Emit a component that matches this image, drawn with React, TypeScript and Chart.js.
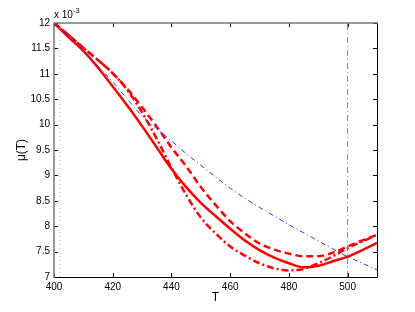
import { useEffect, useRef } from "react";
import { Chart, registerables } from "chart.js";

Chart.register(...registerables);

// Temperature samples (T)
const T = [400, 405, 410, 415, 420, 425, 430, 435, 440, 445, 450, 455, 460, 465, 470, 475, 480, 485, 490, 495, 500, 505, 510];

// mu(T) values in units of 10^-3
const muSolid = [12.0, 11.72, 11.45, 11.12, 10.75, 10.37, 9.97, 9.55, 9.13, 8.77, 8.46, 8.2, 7.95, 7.72, 7.53, 7.38, 7.27, 7.19, 7.22, 7.31, 7.40, 7.53, 7.67];
const muDashed = [12.0, 11.76, 11.51, 11.27, 11.01, 10.7, 10.34, 9.96, 9.55, 9.18, 8.77, 8.42, 8.1, 7.86, 7.66, 7.54, 7.46, 7.41, 7.41, 7.48, 7.6, 7.72, 7.83];
const muDashDot = [12.0, 11.76, 11.51, 11.27, 11.01, 10.68, 10.24, 9.72, 9.15, 8.62, 8.17, 7.86, 7.6, 7.42, 7.27, 7.17, 7.13, 7.16, 7.27, 7.41, 7.57, 7.7, 7.83];
const muBlue = [12.0, 11.74, 11.46, 11.15, 10.84, 10.5, 10.17, 9.92, 9.68, 9.43, 9.2, 8.97, 8.75, 8.55, 8.37, 8.2, 8.03, 7.87, 7.71, 7.55, 7.40, 7.27, 7.14];

// Reference vertical lines
const vLineT = 500;
const dotLineT = 402;

// Axes
const xRange = [400, 510];
const yRange = [7, 12];
const xTicks = [400, 420, 440, 460, 480, 500];
const yTicks = [7, 7.5, 8, 8.5, 9, 9.5, 10, 10.5, 11, 11.5, 12];
const xLabel = "T";
const yLabel = "μ(T)";
const expBase = "x 10";
const expPow = "-3";

const FONT = '"Liberation Sans", Arial, Helvetica, sans-serif';

const pts = (ys: number[]) => T.map((t, i) => ({ x: t, y: ys[i] }));
const vline = (t: number) => [
  { x: t, y: yRange[0] },
  { x: t, y: yRange[1] },
];

const framePlugin = {
  id: "matlabFrame",
  afterDatasetsDraw(chart: any) {
    const { ctx, chartArea: a, scales } = chart;
    const xs = scales.x;
    const ys = scales.y;
    ctx.save();
    const L = 4;
    ctx.lineWidth = 1;
    ctx.strokeStyle = "#000";
    ctx.beginPath();
    for (const v of xTicks) {
      const px = Math.round(xs.getPixelForValue(v)) + 0.5;
      ctx.moveTo(px, a.bottom);
      ctx.lineTo(px, a.bottom - L);
      ctx.moveTo(px, a.top);
      ctx.lineTo(px, a.top + L);
    }
    for (const v of yTicks) {
      const py = Math.round(ys.getPixelForValue(v)) + 0.5;
      ctx.moveTo(a.left, py);
      ctx.lineTo(a.left + L, py);
      ctx.moveTo(a.right, py);
      ctx.lineTo(a.right - L, py);
    }
    ctx.stroke();
    // right & bottom
    ctx.beginPath();
    ctx.moveTo(a.left, Math.round(a.bottom) + 0.5);
    ctx.lineTo(a.right + 0.5, Math.round(a.bottom) + 0.5);
    ctx.lineTo(Math.round(a.right) + 0.5, a.top);
    ctx.stroke();
    // left & top (softer)
    ctx.strokeStyle = "#7a7a7a";
    ctx.lineWidth = 1.5;
    ctx.beginPath();
    ctx.moveTo(a.left, a.bottom + 1);
    ctx.lineTo(a.left, a.top);
    ctx.lineTo(a.right + 1, a.top);
    ctx.stroke();
    // exponent label
    ctx.fillStyle = "#000";
    ctx.textBaseline = "alphabetic";
    ctx.textAlign = "left";
    ctx.font = `10px ${FONT}`;
    ctx.fillText(expBase, a.left, 18);
    const w = ctx.measureText(expBase).width;
    ctx.font = `7px ${FONT}`;
    ctx.fillText(expPow, a.left + w + 0.5, 13);
    ctx.restore();
  },
};

export default function App() {
  const ref = useRef<HTMLCanvasElement | null>(null);

  useEffect(() => {
    document.body.style.margin = "0";
    const canvas = ref.current;
    if (!canvas) return;
    const chart = new Chart(canvas, {
      type: "line",
      data: {
        datasets: [
          {
            data: vline(dotLineT),
            borderColor: "rgba(170,170,255,0.8)",
            borderWidth: 1,
            borderDash: [1, 3],
            pointRadius: 0,
          },
          {
            data: vline(vLineT),
            borderColor: "#808080",
            borderWidth: 1,
            borderDash: [6, 3, 1, 3],
            pointRadius: 0,
          },
          {
            data: pts(muBlue),
            borderColor: "#2a2aff",
            borderWidth: 1,
            borderDash: [5, 3, 1, 3],
            pointRadius: 0,
            cubicInterpolationMode: "monotone",
          },
          {
            data: pts(muDashDot),
            borderColor: "#ff0000",
            borderWidth: 2.5,
            borderDash: [7, 3, 2, 3],
            pointRadius: 0,
            cubicInterpolationMode: "monotone",
          },
          {
            data: pts(muDashed),
            borderColor: "#ff0000",
            borderWidth: 2.5,
            borderDash: [7, 4],
            pointRadius: 0,
            cubicInterpolationMode: "monotone",
          },
          {
            data: pts(muSolid),
            borderColor: "#ff0000",
            borderWidth: 2.5,
            pointRadius: 0,
            cubicInterpolationMode: "monotone",
          },
        ],
      },
      options: {
        responsive: false,
        animation: false,
        events: [],
        layout: { padding: { top: 23, right: 38, left: 0, bottom: 0 } },
        plugins: { legend: { display: false }, tooltip: { enabled: false } },
        scales: {
          x: {
            type: "linear",
            min: xRange[0],
            max: xRange[1],
            grid: { display: false, drawTicks: false },
            border: { display: false },
            afterBuildTicks: (s: any) => {
              s.ticks = xTicks.map((v) => ({ value: v }));
            },
            afterFit: (s: any) => {
              s.height = 35;
            },
            ticks: {
              padding: 4,
              color: "#000",
              maxRotation: 0,
              autoSkip: false,
              font: { family: FONT, size: 10 },
              callback: (v: any) => String(v),
            },
            title: {
              display: true,
              text: xLabel,
              color: "#000",
              font: { family: FONT, size: 12 },
              padding: { top: 0, bottom: 7 },
            },
          },
          y: {
            type: "linear",
            min: yRange[0],
            max: yRange[1],
            grid: { display: false, drawTicks: false },
            border: { display: false },
            afterBuildTicks: (s: any) => {
              s.ticks = yTicks.map((v) => ({ value: v }));
            },
            afterFit: (s: any) => {
              s.width = 54;
            },
            ticks: {
              padding: 4,
              color: "#000",
              autoSkip: false,
              font: { family: FONT, size: 10 },
              callback: (v: any) => String(v),
            },
            title: {
              display: true,
              text: yLabel,
              color: "#000",
              font: { family: FONT, size: 12 },
              padding: { top: 14, bottom: 0 },
            },
          },
        },
      },
      plugins: [framePlugin],
    } as any);
    return () => chart.destroy();
  }, []);

  return (
    <div style={{ width: 415, height: 312 }}>
      <canvas ref={ref} width={415} height={312} />
    </div>
  );
}
